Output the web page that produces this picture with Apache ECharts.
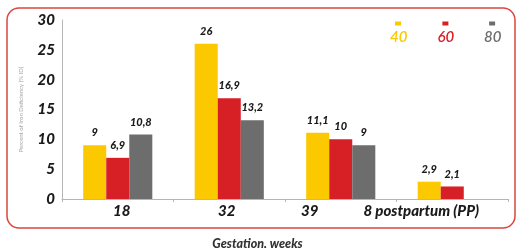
<!DOCTYPE html>
<html>
<head>
<meta charset="utf-8">
<script src="https://cdn.jsdelivr.net/npm/echarts@6/dist/echarts.min.js"></script>
<style>
  html, body { margin: 0; padding: 0; background: #fff; }
  #main { width: 518px; height: 248px; }
</style>
</head>
<body>
<div id="main"></div>
<script>
// gestation weeks
var categories = ['18', '32', '39', '8 postpartum (PP)'];
var seriesNames = ['40', '60', '80'];
var values40 = [9, 26, 11.1, 2.9];
var values60 = [6.9, 16.9, 10, 2.1];
var values80 = [10.8, 13.2, 9, null];
var yTicks = [0, 5, 10, 15, 20, 25, 30];

var colors = ['#fcc800', '#d71f26', '#6d6d6d'];
var fontFam = 'Lato, "Open Sans", sans-serif';

var chartDom = document.getElementById('main');
var myChart = echarts.init(chartDom, null, { renderer: 'canvas' });

// shift some of the category labels like in the picture
var labelPad = [[0, 0, 0, 8], [0, 5, 0, 0], [0, 62, 0, 0], [0, 62, 0, 0]];
var xData = categories.map(function (c, i) {
  return { value: c, textStyle: { padding: labelPad[i] } };
});

function mkSeries(name, data, idx) {
  return {
    name: name,
    type: 'bar',
    data: data,
    barGap: '0%',
    barCategoryGap: '38%',
    itemStyle: { color: colors[idx] },
    label: {
      show: true,
      position: 'top',
      distance: 7,
      color: '#1a1a1a',
      fontFamily: fontFam,
      fontStyle: 'italic',
      fontWeight: 900,
      fontSize: 11,
      formatter: function (p) {
        return String(p.value).replace('.', ',');
      }
    }
  };
}

var option = {
  animation: false,
  color: colors,
  grid: { left: 62, right: 10, top: 20, bottom: 49, outerBoundsMode: 'none' },
  graphic: [{
    type: 'rect',
    shape: { x: 7, y: 8, width: 508, height: 220, r: 12 },
    style: { fill: 'none', stroke: '#d9463e', lineWidth: 1.5 },
    silent: true,
    z: -1
  }],
  legend: {
    data: seriesNames,
    left: 385,
    top: -3,
    itemWidth: 6,
    itemHeight: 4,
    itemGap: 30,
    icon: 'rect',
    // push the text under the little square
    formatter: function (name) {
      return '\n\n' + name;
    },
    textStyle: {
      fontFamily: fontFam,
      fontStyle: 'italic',
      fontSize: 15,
      fontWeight: 600,
      lineHeight: 14,
      padding: [0, 0, 0, -16],
      color: 'inherit'
    }
  },
  xAxis: {
    type: 'category',
    data: xData,
    name: 'Gestation, weeks',
    nameLocation: 'middle',
    nameGap: 38,
    nameTextStyle: {
      fontFamily: fontFam,
      fontStyle: 'italic',
      fontWeight: 900,
      fontSize: 12.5,
      color: '#333',
      padding: [0, 55, 0, 0]
    },
    axisLine: { lineStyle: { color: '#b5b5b5', width: 1 } },
    axisTick: { show: true, length: 3, lineStyle: { color: '#b5b5b5' } },
    axisLabel: {
      interval: 0,
      margin: 5,
      color: '#1a1a1a',
      fontFamily: fontFam,
      fontStyle: 'italic',
      fontWeight: 900,
      fontSize: 15
    }
  },
  yAxis: {
    type: 'value',
    min: yTicks[0],
    max: yTicks[yTicks.length - 1],
    interval: 5,
    name: 'Percent of Iron Deficiency (% ID)',
    nameLocation: 'middle',
    nameGap: 38,
    nameTextStyle: { fontFamily: fontFam, fontSize: 6, color: '#a5a5a5' },
    splitLine: { show: false },
    axisLine: { show: true, lineStyle: { color: '#b5b5b5' } },
    axisTick: { show: false },
    axisLabel: {
      margin: 7,
      color: '#1a1a1a',
      fontFamily: fontFam,
      fontStyle: 'italic',
      fontWeight: 900,
      fontSize: 15
    }
  },
  series: [
    mkSeries(seriesNames[0], values40, 0),
    mkSeries(seriesNames[1], values60, 1),
    mkSeries(seriesNames[2], values80, 2)
  ]
};

option && myChart.setOption(option);
</script>
</body>
</html>
